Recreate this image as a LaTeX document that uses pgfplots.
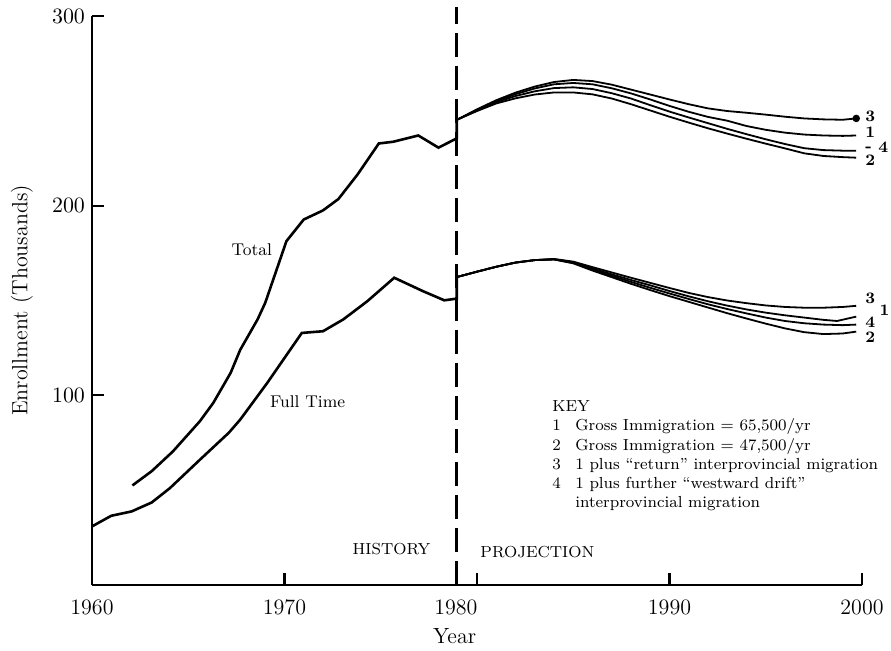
\documentclass[border=0pt]{standalone}
\usepackage{pgfplots}
\pgfplotsset{compat=1.18}
\begin{document}
\begin{tikzpicture}
\useasboundingbox (-46pt,-32.5pt) rectangle (399.5pt,292.5pt);
\begin{axis}[
  scale only axis, width=385pt, height=284.5pt,
  at={(0,0)}, anchor=south west,
  xmin=1960, xmax=2000, ymin=0, ymax=300,
  axis x line*=bottom, axis y line*=left,
  axis line style={line width=1.3pt, -},
  xtick={1970,1980,1990,2000}, xticklabels={1970,,1990,2000},
  extra x ticks={1960,1978.9}, extra x tick labels={1960,1980},
  extra x tick style={major tick length=0pt},
  ytick={100,200,300},
  tick align=inside, major tick length=6pt,
  tick style={line width=1.1pt, black},
  ticklabel style={font=\fontsize{11}{13}\selectfont},
  xticklabel style={yshift=-4pt},
  /pgf/number format/1000 sep={},
  xlabel={Year}, ylabel={Enrollment (Thousands)},
  every axis x label/.style={at={(axis description cs:0.471,0)}, anchor=north, yshift=-18pt, font=\fontsize{11}{13}\selectfont},
  every axis y label/.style={at={(axis description cs:-0.0909,0.5)}, anchor=center, rotate=90, font=\fontsize{11}{13}\selectfont},
  clip=false,
]
% dashed divider
\addplot[black, line width=1.5pt, dash pattern=on 12pt off 4.5pt] coordinates {(1978.95,0) (1978.95,305)};
% Total (history)
\addplot[black, line width=1.3pt] coordinates {
(1962.1,52.5) (1963.1,60) (1964.2,70.4) (1965.6,86.3) (1966.3,96) (1967.2,111.8) (1967.7,124)
(1968.6,140) (1969.0,148.8) (1970.1,181.3) (1971.0,192.7) (1972.0,197.5) (1972.8,203.5)
(1973.8,216.5) (1974.9,232.8) (1975.65,233.7) (1976.95,237) (1978.0,230.6) (1978.95,235.5) (1978.95,245.5)};
% Full time (history)
\addplot[black, line width=1.3pt] coordinates {
(1960,30.9) (1961,36.5) (1962.06,38.8) (1963.1,43.5) (1964.05,51.1) (1965.6,66) (1967.1,80.2)
(1967.7,87.2) (1969.1,106.5) (1970.9,132.9) (1972.0,133.8) (1973.05,140) (1974.3,149.6)
(1975.7,162) (1977.2,154.9) (1978.3,150.1) (1978.95,151) (1978.95,162.5)};
% Total projections
\addplot[black, line width=0.9pt, mark=*, mark indices={22}, mark size=1.4pt] coordinates {
(1979,245.5)(1980,250.8)(1981,255.6)(1982,259.6)(1983,262.8)(1984,265.2)(1985,266.3)(1986,265.7)
(1987,263.8)(1988,261.2)(1989,258.6)(1990,256)(1991,253.5)(1992,251.3)(1993,249.9)(1994,249)
(1995,248)(1996,246.9)(1997,246)(1998,245.5)(1999,245.3)(1999.7,246)};
\addplot[black, line width=0.9pt] coordinates {
(1979,245.5)(1980,250.5)(1981,255.2)(1982,258.8)(1983,261.8)(1984,264)(1985,264.7)(1986,264)
(1987,261.9)(1988,259.2)(1989,256)(1990,252.6)(1991,249.5)(1992,246.8)(1993,244.8)(1994,242)
(1995,240)(1996,238.5)(1997,237.5)(1998,237)(1999,236.8)(1999.7,237)};
\addplot[black, line width=0.9pt] coordinates {
(1979,245.5)(1980,250.2)(1981,254.6)(1982,257.8)(1983,260.3)(1984,262)(1985,262.4)(1986,261.5)
(1987,259.3)(1988,256.5)(1989,253)(1990,249.6)(1991,246.5)(1992,243.5)(1993,240.5)(1994,237.7)
(1995,235)(1996,232.5)(1997,230.3)(1998,229.3)(1999,229)(1999.7,229)};
\addplot[black, line width=0.9pt] coordinates {
(1979,245.5)(1980,249.9)(1981,253.9)(1982,256.6)(1983,258.6)(1984,259.7)(1985,259.7)(1986,258.7)
(1987,256.5)(1988,253.5)(1989,250.2)(1990,246.9)(1991,243.8)(1992,240.8)(1993,238)(1994,235.3)
(1995,232.7)(1996,230.2)(1997,227.6)(1998,226.2)(1999,225.6)(1999.7,225.3)};
% Full time projections
\addplot[black, line width=0.9pt] coordinates {
(1979,162.5)(1980,165.2)(1981,167.8)(1982,170)(1983,171.3)(1984,171.9)(1985,170.5)(1986,167.6)
(1987,164.8)(1988,162)(1989,159.3)(1990,156.6)(1991,154)(1992,151.8)(1993,150)(1994,148.6)
(1995,147.4)(1996,146.6)(1997,146.2)(1998,146.2)(1999,146.6)(1999.7,147.2)};
\addplot[black, line width=0.9pt] coordinates {
(1979,162.5)(1980,165.2)(1981,167.8)(1982,170)(1983,171.3)(1984,171.8)(1985,170.2)(1986,166.9)
(1987,163.8)(1988,160.8)(1989,158)(1990,155)(1991,152.2)(1992,149.6)(1993,147.3)(1994,145.3)
(1995,143.6)(1996,142.2)(1997,141)(1998,139.8)(1998.7,139.2)(1999.7,141.5)};
\addplot[black, line width=0.9pt] coordinates {
(1979,162.5)(1980,165.2)(1981,167.8)(1982,170)(1983,171.3)(1984,171.7)(1985,169.9)(1986,166.3)
(1987,163)(1988,159.8)(1989,156.7)(1990,153.7)(1991,150.8)(1992,148)(1993,145.5)(1994,143.2)
(1995,141)(1996,139.2)(1997,138)(1998,137.3)(1999,137)(1999.7,137.3)};
\addplot[black, line width=0.9pt] coordinates {
(1979,162.5)(1980,165.2)(1981,167.8)(1982,170)(1983,171.3)(1984,171.6)(1985,169.6)(1986,165.8)
(1987,162.3)(1988,158.8)(1989,155.5)(1990,152.3)(1991,149.3)(1992,146.3)(1993,143.3)(1994,140.5)
(1995,137.8)(1996,135.3)(1997,133.3)(1998,132.3)(1999,132.6)(1999.7,133.6)};
% curve labels
\node[font=\fontsize{8.5}{10}\selectfont] at (axis cs:1968.3,176.9) {Total};
\node[font=\fontsize{8.5}{10}\selectfont] at (axis cs:1971.2,96.8) {Full Time};
\node[font=\fontsize{8}{10}\selectfont, anchor=base] at (axis cs:1975.56,15.9) {HISTORY};
\node[font=\fontsize{8}{10}\selectfont, anchor=base west, inner sep=0pt] at (axis cs:1980.16,14.6) {PROJECTION};
% key
\begin{scope}[every node/.style={font=\fontsize{8}{10}\selectfont, anchor=base west, inner sep=0pt}]
\node at (axis cs:1983.9,91.4) {KEY};
\node at (axis cs:1983.9,81.4) {1};
\node at (axis cs:1985.09,81.4) {Gross Immigration $=$ 65,500/yr};
\node at (axis cs:1983.9,71.1) {2};
\node at (axis cs:1985.09,71.1) {Gross Immigration $=$ 47,500/yr};
\node at (axis cs:1983.9,60.8) {3};
\node at (axis cs:1985.09,60.8) {1 plus ``return'' interprovincial migration};
\node at (axis cs:1983.9,50.8) {4};
\node at (axis cs:1985.09,50.8) {1 plus further ``westward drift''};
\node at (axis cs:1985.09,40.7) {interprovincial migration};
\end{scope}
% end labels
\begin{scope}[every node/.style={font=\bfseries\fontsize{8}{10}\selectfont, anchor=west, inner sep=0pt}]
\node at (axis cs:2000.16,247.3) {3};
\node at (axis cs:2000.16,238.6) {1};
\node at (axis cs:2000.16,229.4) {\raisebox{0.5pt}{-}};
\node at (axis cs:2000.83,231.0) {4};
\node at (axis cs:2000.16,224.0) {2};
\node at (axis cs:2000.16,151.0) {3};
\node at (axis cs:2000.9,145.0) {1};
\node at (axis cs:2000.16,138.3) {4};
\node at (axis cs:2000.16,130.5) {2};
\end{scope}
\end{axis}
\end{tikzpicture}
\end{document}
